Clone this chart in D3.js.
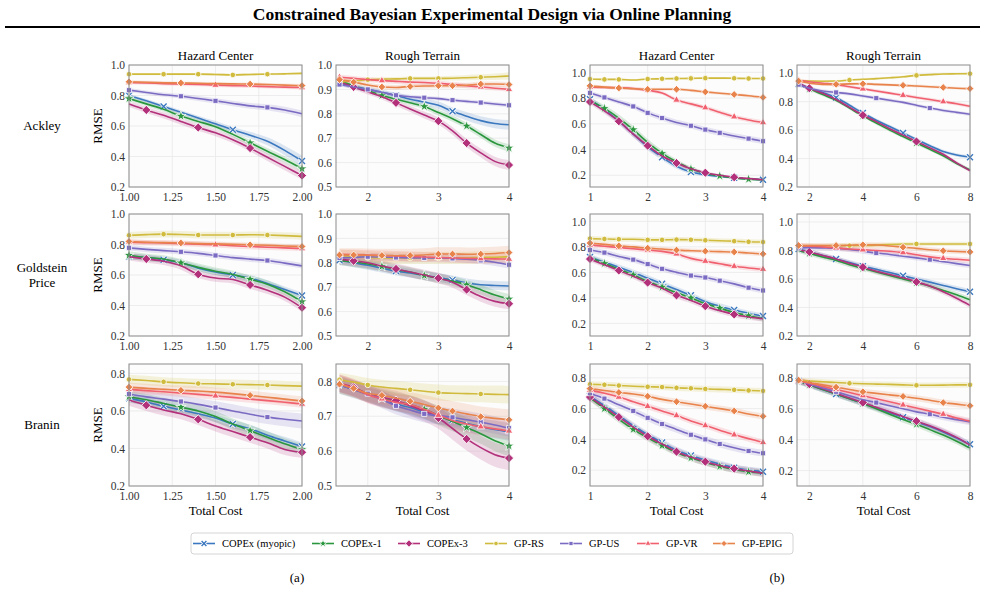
<!DOCTYPE html>
<html>
<head>
<meta charset="utf-8">
<script src="https://cdn.jsdelivr.net/npm/d3@7"></script>
<style>
  body { margin: 0; background: #fff; }
  svg { display: block; font-family: "Liberation Serif", "DejaVu Serif", serif; }
</style>
</head>
<body>
<script>
var WIDTH = 985;
var HEIGHT = 594;

var seriesNames = ['COPEx (myopic)', 'COPEx-1', 'COPEx-3', 'GP-RS', 'GP-US', 'GP-VR', 'GP-EPIG'];
var rowNames = [['Ackley'], ['Goldstein', 'Price'], ['Branin']];
var colTitles = ['Hazard Center', 'Rough Terrain', 'Hazard Center', 'Rough Terrain'];

// x grids (total cost)
var costHazardA = [1.0, 1.1, 1.2, 1.3, 1.4, 1.5, 1.6, 1.7, 1.8, 1.9, 2.0];
var costRoughA = [1.6, 1.8, 2.0, 2.2, 2.4, 2.6, 2.8, 3.0, 3.2, 3.4, 3.6, 3.8, 4.0];
var costHazardB = [1.0, 1.25, 1.5, 1.75, 2.0, 2.25, 2.5, 2.75, 3.0, 3.25, 3.5, 3.75, 4.0];
var costRoughB = [1.6, 2.0, 2.5, 3.0, 3.5, 4.0, 4.5, 5.0, 5.5, 6.0, 6.5, 7.0, 7.5, 8.0];

// tick labels
var xTicksHazardA = [1.0, 1.25, 1.5, 1.75, 2.0];
var xTicksRoughA = [2, 3, 4];
var xTicksHazardB = [1, 2, 3, 4];
var xTicksRoughB = [2, 4, 6, 8];
var yTicksWide = [0.2, 0.4, 0.6, 0.8, 1.0];
var yTicksNarrow = [0.5, 0.6, 0.7, 0.8, 0.9, 1.0];
var yTicksBraninWide = [0.2, 0.4, 0.6, 0.8];
var yTicksBraninNarrow = [0.5, 0.6, 0.7, 0.8];

// RMSE, one row per series in the order of seriesNames
var ackleyHazardA = [
  [0.80, 0.765, 0.728, 0.69, 0.652, 0.615, 0.575, 0.54, 0.50, 0.44, 0.37],
  [0.78, 0.745, 0.71, 0.665, 0.63, 0.595, 0.545, 0.49, 0.435, 0.38, 0.32],
  [0.745, 0.705, 0.67, 0.63, 0.59, 0.555, 0.51, 0.455, 0.395, 0.335, 0.275],
  [0.94, 0.94, 0.94, 0.94, 0.94, 0.938, 0.935, 0.938, 0.94, 0.942, 0.945],
  [0.835, 0.82, 0.805, 0.795, 0.78, 0.765, 0.748, 0.732, 0.722, 0.705, 0.68],
  [0.885, 0.882, 0.878, 0.875, 0.872, 0.868, 0.865, 0.862, 0.858, 0.855, 0.852],
  [0.89, 0.887, 0.884, 0.882, 0.88, 0.878, 0.876, 0.875, 0.872, 0.868, 0.865]
];
var ackleyRoughA = [
  [0.925, 0.912, 0.9, 0.888, 0.875, 0.86, 0.848, 0.835, 0.81, 0.79, 0.772, 0.76, 0.755],
  [0.935, 0.915, 0.895, 0.875, 0.86, 0.845, 0.83, 0.805, 0.78, 0.75, 0.715, 0.68, 0.66],
  [0.93, 0.91, 0.89, 0.87, 0.845, 0.82, 0.795, 0.77, 0.73, 0.68, 0.64, 0.605, 0.59],
  [0.93, 0.935, 0.94, 0.942, 0.943, 0.945, 0.945, 0.945, 0.946, 0.948, 0.95, 0.952, 0.955],
  [0.92, 0.91, 0.9, 0.888, 0.876, 0.87, 0.866, 0.862, 0.856, 0.851, 0.846, 0.84, 0.835],
  [0.95, 0.945, 0.94, 0.936, 0.933, 0.93, 0.928, 0.925, 0.92, 0.915, 0.91, 0.905, 0.9],
  [0.94, 0.93, 0.918, 0.91, 0.908, 0.912, 0.914, 0.915, 0.915, 0.917, 0.922, 0.922, 0.92]
];
var ackleyHazardB = [
  [0.79, 0.71, 0.62, 0.52, 0.42, 0.34, 0.27, 0.225, 0.205, 0.19, 0.18, 0.172, 0.165],
  [0.78, 0.72, 0.645, 0.555, 0.455, 0.37, 0.305, 0.25, 0.215, 0.195, 0.18, 0.17, 0.165],
  [0.77, 0.70, 0.62, 0.52, 0.43, 0.35, 0.295, 0.25, 0.22, 0.20, 0.185, 0.175, 0.165],
  [0.948, 0.945, 0.945, 0.94, 0.948, 0.95, 0.952, 0.953, 0.955, 0.955, 0.954, 0.952, 0.952],
  [0.84, 0.805, 0.77, 0.735, 0.685, 0.645, 0.61, 0.585, 0.555, 0.53, 0.505, 0.485, 0.465],
  [0.885, 0.882, 0.88, 0.875, 0.86, 0.84, 0.785, 0.755, 0.725, 0.69, 0.655, 0.63, 0.61],
  [0.895, 0.885, 0.878, 0.873, 0.868, 0.868, 0.868, 0.86, 0.848, 0.838, 0.828, 0.818, 0.805]
];
var ackleyRoughB = [
  [0.925, 0.895, 0.865, 0.83, 0.775, 0.72, 0.67, 0.625, 0.58, 0.535, 0.49, 0.45, 0.425, 0.41],
  [0.925, 0.89, 0.85, 0.81, 0.755, 0.70, 0.65, 0.60, 0.555, 0.51, 0.465, 0.42, 0.365, 0.32],
  [0.93, 0.895, 0.86, 0.815, 0.76, 0.705, 0.66, 0.61, 0.565, 0.52, 0.475, 0.43, 0.37, 0.315],
  [0.948, 0.945, 0.944, 0.945, 0.952, 0.958, 0.962, 0.968, 0.975, 0.985, 0.99, 0.995, 0.996, 0.997],
  [0.92, 0.895, 0.875, 0.865, 0.855, 0.84, 0.825, 0.81, 0.795, 0.775, 0.755, 0.738, 0.725, 0.712],
  [0.95, 0.94, 0.93, 0.92, 0.905, 0.89, 0.875, 0.86, 0.845, 0.83, 0.815, 0.80, 0.785, 0.768],
  [0.945, 0.93, 0.922, 0.922, 0.925, 0.926, 0.922, 0.918, 0.915, 0.91, 0.905, 0.90, 0.895, 0.892]
];
var goldsteinHazardA = [
  [0.72, 0.715, 0.70, 0.68, 0.645, 0.62, 0.60, 0.58, 0.545, 0.505, 0.465],
  [0.73, 0.715, 0.705, 0.68, 0.65, 0.625, 0.603, 0.572, 0.54, 0.49, 0.425],
  [0.72, 0.705, 0.69, 0.66, 0.605, 0.58, 0.57, 0.535, 0.50, 0.455, 0.385],
  [0.86, 0.865, 0.868, 0.866, 0.862, 0.862, 0.862, 0.864, 0.862, 0.858, 0.853],
  [0.778, 0.768, 0.76, 0.752, 0.742, 0.728, 0.714, 0.704, 0.695, 0.678, 0.66],
  [0.815, 0.812, 0.81, 0.806, 0.802, 0.798, 0.792, 0.787, 0.782, 0.778, 0.773],
  [0.82, 0.815, 0.812, 0.81, 0.806, 0.804, 0.801, 0.798, 0.795, 0.79, 0.787]
];
var goldsteinRoughA = [
  [0.81, 0.80, 0.79, 0.778, 0.766, 0.758, 0.748, 0.74, 0.73, 0.718, 0.71, 0.707, 0.705],
  [0.81, 0.803, 0.795, 0.785, 0.772, 0.762, 0.748, 0.736, 0.725, 0.71, 0.69, 0.668, 0.652],
  [0.815, 0.808, 0.80, 0.787, 0.775, 0.762, 0.75, 0.737, 0.72, 0.69, 0.662, 0.642, 0.632],
  [0.83, 0.826, 0.822, 0.82, 0.82, 0.82, 0.82, 0.82, 0.82, 0.82, 0.822, 0.823, 0.825],
  [0.82, 0.822, 0.825, 0.824, 0.822, 0.82, 0.82, 0.82, 0.818, 0.815, 0.81, 0.802, 0.792],
  [0.835, 0.834, 0.832, 0.83, 0.828, 0.826, 0.824, 0.822, 0.82, 0.818, 0.817, 0.816, 0.815],
  [0.832, 0.832, 0.831, 0.83, 0.83, 0.83, 0.832, 0.836, 0.836, 0.835, 0.836, 0.838, 0.842]
];
var goldsteinHazardB = [
  [0.72, 0.68, 0.64, 0.60, 0.555, 0.51, 0.465, 0.42, 0.37, 0.335, 0.305, 0.28, 0.257],
  [0.715, 0.67, 0.625, 0.58, 0.53, 0.485, 0.44, 0.40, 0.355, 0.32, 0.285, 0.26, 0.238],
  [0.705, 0.66, 0.615, 0.57, 0.52, 0.475, 0.42, 0.38, 0.335, 0.30, 0.27, 0.25, 0.235],
  [0.865, 0.862, 0.86, 0.86, 0.855, 0.855, 0.857, 0.856, 0.852, 0.848, 0.845, 0.84, 0.838],
  [0.775, 0.755, 0.725, 0.70, 0.665, 0.628, 0.60, 0.575, 0.56, 0.535, 0.51, 0.48, 0.458],
  [0.815, 0.805, 0.795, 0.785, 0.775, 0.765, 0.745, 0.71, 0.688, 0.668, 0.648, 0.635, 0.625],
  [0.83, 0.82, 0.808, 0.80, 0.79, 0.783, 0.775, 0.77, 0.766, 0.763, 0.76, 0.752, 0.745]
];
var goldsteinRoughB = [
  [0.81, 0.79, 0.765, 0.74, 0.715, 0.69, 0.668, 0.645, 0.622, 0.60, 0.578, 0.555, 0.532, 0.51],
  [0.80, 0.78, 0.755, 0.73, 0.70, 0.675, 0.65, 0.625, 0.60, 0.575, 0.55, 0.52, 0.49, 0.455],
  [0.805, 0.79, 0.765, 0.74, 0.71, 0.683, 0.655, 0.632, 0.608, 0.58, 0.55, 0.51, 0.465, 0.415],
  [0.83, 0.832, 0.833, 0.834, 0.834, 0.835, 0.838, 0.842, 0.845, 0.846, 0.846, 0.846, 0.846, 0.846],
  [0.82, 0.82, 0.818, 0.815, 0.808, 0.795, 0.782, 0.772, 0.76, 0.748, 0.736, 0.722, 0.708, 0.695],
  [0.835, 0.83, 0.825, 0.818, 0.81, 0.805, 0.80, 0.795, 0.785, 0.77, 0.755, 0.745, 0.738, 0.732],
  [0.835, 0.835, 0.835, 0.835, 0.837, 0.84, 0.838, 0.832, 0.823, 0.815, 0.805, 0.798, 0.793, 0.79]
];
var braninHazardA = [
  [0.667, 0.648, 0.625, 0.605, 0.585, 0.562, 0.53, 0.505, 0.47, 0.44, 0.41],
  [0.676, 0.66, 0.64, 0.62, 0.60, 0.57, 0.53, 0.495, 0.46, 0.425, 0.395],
  [0.658, 0.63, 0.605, 0.585, 0.555, 0.52, 0.49, 0.46, 0.43, 0.395, 0.38],
  [0.768, 0.762, 0.755, 0.75, 0.746, 0.744, 0.742, 0.74, 0.738, 0.735, 0.732],
  [0.69, 0.675, 0.663, 0.65, 0.635, 0.618, 0.60, 0.582, 0.567, 0.556, 0.546],
  [0.715, 0.708, 0.702, 0.695, 0.688, 0.68, 0.672, 0.663, 0.655, 0.646, 0.637],
  [0.727, 0.72, 0.715, 0.71, 0.706, 0.70, 0.692, 0.683, 0.673, 0.663, 0.653]
];
var braninRoughA = [
  [0.79, 0.777, 0.763, 0.75, 0.735, 0.725, 0.712, 0.70, 0.69, 0.68, 0.67, 0.662, 0.655],
  [0.79, 0.778, 0.765, 0.752, 0.742, 0.733, 0.72, 0.702, 0.685, 0.668, 0.65, 0.63, 0.615],
  [0.795, 0.783, 0.765, 0.755, 0.745, 0.73, 0.715, 0.695, 0.665, 0.635, 0.61, 0.59, 0.58],
  [0.805, 0.798, 0.79, 0.784, 0.78, 0.776, 0.772, 0.768, 0.766, 0.765, 0.764, 0.763, 0.762],
  [0.79, 0.777, 0.765, 0.748, 0.73, 0.718, 0.707, 0.702, 0.697, 0.69, 0.683, 0.675, 0.666],
  [0.795, 0.78, 0.762, 0.75, 0.74, 0.734, 0.72, 0.703, 0.688, 0.678, 0.67, 0.664, 0.658],
  [0.792, 0.78, 0.766, 0.76, 0.752, 0.743, 0.734, 0.724, 0.715, 0.707, 0.699, 0.694, 0.69]
];
var braninHazardB = [
  [0.68, 0.62, 0.555, 0.49, 0.43, 0.38, 0.33, 0.295, 0.265, 0.24, 0.215, 0.20, 0.19],
  [0.67, 0.60, 0.53, 0.465, 0.41, 0.36, 0.315, 0.28, 0.25, 0.225, 0.205, 0.19, 0.18],
  [0.675, 0.61, 0.545, 0.48, 0.42, 0.37, 0.32, 0.285, 0.255, 0.23, 0.21, 0.195, 0.18],
  [0.758, 0.755, 0.75, 0.745, 0.742, 0.74, 0.735, 0.732, 0.728, 0.725, 0.722, 0.718, 0.715],
  [0.70, 0.665, 0.625, 0.585, 0.54, 0.50, 0.465, 0.43, 0.40, 0.37, 0.345, 0.325, 0.31],
  [0.72, 0.70, 0.675, 0.645, 0.615, 0.585, 0.555, 0.52, 0.49, 0.46, 0.43, 0.405, 0.38],
  [0.73, 0.718, 0.705, 0.695, 0.68, 0.66, 0.645, 0.63, 0.615, 0.60, 0.585, 0.565, 0.55]
];
var braninRoughB = [
  [0.78, 0.755, 0.725, 0.695, 0.665, 0.635, 0.605, 0.575, 0.545, 0.515, 0.485, 0.45, 0.41, 0.37],
  [0.775, 0.755, 0.725, 0.695, 0.665, 0.635, 0.60, 0.565, 0.53, 0.50, 0.465, 0.43, 0.39, 0.345],
  [0.785, 0.76, 0.73, 0.70, 0.67, 0.64, 0.61, 0.58, 0.55, 0.52, 0.49, 0.455, 0.415, 0.365],
  [0.785, 0.78, 0.775, 0.77, 0.765, 0.762, 0.76, 0.758, 0.755, 0.752, 0.752, 0.753, 0.755, 0.755],
  [0.78, 0.76, 0.735, 0.71, 0.685, 0.66, 0.64, 0.62, 0.60, 0.58, 0.565, 0.545, 0.53, 0.515],
  [0.78, 0.765, 0.745, 0.725, 0.705, 0.685, 0.665, 0.645, 0.625, 0.605, 0.585, 0.565, 0.54, 0.52],
  [0.785, 0.77, 0.755, 0.74, 0.725, 0.71, 0.70, 0.69, 0.68, 0.668, 0.655, 0.64, 0.63, 0.62]
];

// half width of the shaded band, same layout as the values
var ackleyHazardAErr = [
  [0.012, 0.012, 0.013, 0.014, 0.015, 0.017, 0.019, 0.022, 0.026, 0.031, 0.036],
  [0.015, 0.015, 0.016, 0.016, 0.017, 0.017, 0.018, 0.019, 0.02, 0.021, 0.022],
  [0.02, 0.02, 0.02, 0.021, 0.021, 0.022, 0.022, 0.023, 0.024, 0.025, 0.026],
  [0.008, 0.008, 0.008, 0.008, 0.008, 0.008, 0.008, 0.008, 0.008, 0.008, 0.008],
  [0.012, 0.013, 0.014, 0.015, 0.016, 0.017, 0.018, 0.019, 0.02, 0.021, 0.022],
  [0.012, 0.012, 0.012, 0.012, 0.012, 0.012, 0.012, 0.012, 0.012, 0.012, 0.012],
  [0.01, 0.01, 0.01, 0.01, 0.01, 0.01, 0.01, 0.01, 0.01, 0.01, 0.01]
];
var ackleyRoughAErr = [
  [0.01, 0.01, 0.01, 0.011, 0.012, 0.013, 0.014, 0.015, 0.016, 0.017, 0.018, 0.019, 0.02],
  [0.008, 0.008, 0.009, 0.009, 0.01, 0.01, 0.011, 0.012, 0.013, 0.013, 0.014, 0.015, 0.015],
  [0.01, 0.01, 0.011, 0.011, 0.012, 0.013, 0.014, 0.015, 0.016, 0.017, 0.018, 0.019, 0.02],
  [0.01, 0.01, 0.008, 0.008, 0.008, 0.008, 0.008, 0.009, 0.01, 0.011, 0.012, 0.013, 0.015],
  [0.008, 0.008, 0.008, 0.008, 0.008, 0.008, 0.008, 0.008, 0.008, 0.008, 0.008, 0.008, 0.008],
  [0.01, 0.01, 0.01, 0.01, 0.01, 0.01, 0.01, 0.01, 0.01, 0.01, 0.01, 0.01, 0.01],
  [0.01, 0.01, 0.01, 0.01, 0.01, 0.01, 0.01, 0.01, 0.01, 0.01, 0.01, 0.01, 0.01]
];
var ackleyHazardBErr = [
  [0.02, 0.022, 0.024, 0.025, 0.025, 0.024, 0.02, 0.016, 0.012, 0.01, 0.008, 0.007, 0.006],
  [0.022, 0.025, 0.028, 0.028, 0.027, 0.025, 0.02, 0.016, 0.012, 0.01, 0.008, 0.007, 0.006],
  [0.02, 0.022, 0.024, 0.025, 0.025, 0.023, 0.02, 0.016, 0.012, 0.01, 0.008, 0.007, 0.006],
  [0.008, 0.008, 0.008, 0.008, 0.008, 0.008, 0.008, 0.008, 0.008, 0.008, 0.008, 0.008, 0.008],
  [0.015, 0.017, 0.018, 0.02, 0.02, 0.021, 0.021, 0.022, 0.022, 0.022, 0.022, 0.022, 0.022],
  [0.012, 0.012, 0.013, 0.013, 0.014, 0.015, 0.016, 0.016, 0.017, 0.017, 0.018, 0.018, 0.018],
  [0.012, 0.012, 0.012, 0.012, 0.012, 0.012, 0.012, 0.012, 0.012, 0.012, 0.012, 0.012, 0.012]
];
var ackleyRoughBErr = [
  [0.012, 0.012, 0.012, 0.012, 0.012, 0.012, 0.012, 0.012, 0.012, 0.012, 0.012, 0.012, 0.012, 0.012],
  [0.012, 0.012, 0.012, 0.012, 0.012, 0.012, 0.012, 0.012, 0.012, 0.012, 0.012, 0.012, 0.012, 0.012],
  [0.012, 0.012, 0.012, 0.012, 0.012, 0.012, 0.012, 0.012, 0.012, 0.012, 0.012, 0.012, 0.012, 0.012],
  [0.008, 0.008, 0.008, 0.008, 0.008, 0.008, 0.008, 0.008, 0.008, 0.008, 0.008, 0.008, 0.008, 0.008],
  [0.012, 0.012, 0.012, 0.012, 0.012, 0.012, 0.012, 0.012, 0.012, 0.012, 0.012, 0.012, 0.012, 0.012],
  [0.012, 0.012, 0.012, 0.012, 0.012, 0.012, 0.012, 0.012, 0.012, 0.012, 0.012, 0.012, 0.012, 0.012],
  [0.01, 0.01, 0.01, 0.01, 0.01, 0.01, 0.01, 0.01, 0.01, 0.01, 0.01, 0.01, 0.01, 0.01]
];
var goldsteinHazardAErr = [
  [0.02, 0.02, 0.02, 0.02, 0.02, 0.02, 0.02, 0.02, 0.02, 0.02, 0.02],
  [0.025, 0.025, 0.025, 0.025, 0.025, 0.025, 0.025, 0.025, 0.025, 0.025, 0.025],
  [0.025, 0.025, 0.025, 0.025, 0.025, 0.025, 0.025, 0.025, 0.025, 0.025, 0.025],
  [0.022, 0.022, 0.022, 0.022, 0.022, 0.022, 0.022, 0.022, 0.022, 0.022, 0.022],
  [0.018, 0.018, 0.018, 0.018, 0.018, 0.018, 0.018, 0.018, 0.018, 0.018, 0.018],
  [0.018, 0.018, 0.018, 0.018, 0.018, 0.018, 0.018, 0.018, 0.018, 0.018, 0.018],
  [0.015, 0.015, 0.015, 0.015, 0.015, 0.015, 0.015, 0.015, 0.015, 0.015, 0.015]
];
var goldsteinRoughAErr = [
  [0.018, 0.018, 0.018, 0.018, 0.018, 0.018, 0.018, 0.018, 0.018, 0.018, 0.018, 0.018, 0.018],
  [0.02, 0.02, 0.02, 0.02, 0.02, 0.02, 0.02, 0.02, 0.02, 0.02, 0.02, 0.02, 0.02],
  [0.022, 0.022, 0.022, 0.022, 0.022, 0.022, 0.022, 0.022, 0.022, 0.022, 0.022, 0.022, 0.022],
  [0.025, 0.025, 0.025, 0.025, 0.025, 0.025, 0.025, 0.025, 0.025, 0.025, 0.025, 0.025, 0.025],
  [0.015, 0.015, 0.015, 0.015, 0.015, 0.015, 0.015, 0.015, 0.015, 0.015, 0.015, 0.015, 0.015],
  [0.02, 0.02, 0.02, 0.02, 0.02, 0.02, 0.02, 0.02, 0.02, 0.02, 0.02, 0.02, 0.02],
  [0.028, 0.028, 0.028, 0.028, 0.028, 0.028, 0.028, 0.028, 0.028, 0.028, 0.028, 0.028, 0.028]
];
var goldsteinHazardBErr = [
  [0.022, 0.022, 0.022, 0.022, 0.022, 0.022, 0.022, 0.022, 0.022, 0.022, 0.022, 0.022, 0.022],
  [0.022, 0.022, 0.022, 0.022, 0.022, 0.022, 0.022, 0.022, 0.022, 0.022, 0.022, 0.022, 0.022],
  [0.022, 0.022, 0.022, 0.022, 0.022, 0.022, 0.022, 0.022, 0.022, 0.022, 0.022, 0.022, 0.022],
  [0.02, 0.02, 0.02, 0.02, 0.02, 0.02, 0.02, 0.02, 0.02, 0.02, 0.02, 0.02, 0.02],
  [0.022, 0.022, 0.022, 0.022, 0.022, 0.022, 0.022, 0.022, 0.022, 0.022, 0.022, 0.022, 0.022],
  [0.02, 0.02, 0.02, 0.02, 0.02, 0.02, 0.02, 0.02, 0.02, 0.02, 0.02, 0.02, 0.02],
  [0.018, 0.018, 0.018, 0.018, 0.018, 0.018, 0.018, 0.018, 0.018, 0.018, 0.018, 0.018, 0.018]
];
var goldsteinRoughBErr = [
  [0.018, 0.018, 0.018, 0.018, 0.018, 0.018, 0.018, 0.018, 0.018, 0.018, 0.018, 0.018, 0.018, 0.018],
  [0.018, 0.018, 0.018, 0.018, 0.018, 0.018, 0.018, 0.018, 0.018, 0.018, 0.018, 0.018, 0.018, 0.018],
  [0.018, 0.018, 0.018, 0.018, 0.018, 0.018, 0.018, 0.018, 0.018, 0.018, 0.018, 0.018, 0.018, 0.018],
  [0.015, 0.015, 0.015, 0.015, 0.015, 0.015, 0.015, 0.015, 0.015, 0.015, 0.015, 0.015, 0.015, 0.015],
  [0.018, 0.018, 0.018, 0.018, 0.018, 0.018, 0.018, 0.018, 0.018, 0.018, 0.018, 0.018, 0.018, 0.018],
  [0.018, 0.018, 0.018, 0.018, 0.018, 0.018, 0.018, 0.018, 0.018, 0.018, 0.018, 0.018, 0.018, 0.018],
  [0.018, 0.018, 0.018, 0.018, 0.018, 0.018, 0.018, 0.018, 0.018, 0.018, 0.018, 0.018, 0.018, 0.018]
];
var braninHazardAErr = [
  [0.022, 0.022, 0.022, 0.022, 0.022, 0.022, 0.022, 0.022, 0.022, 0.022, 0.022],
  [0.03, 0.03, 0.03, 0.03, 0.03, 0.03, 0.03, 0.03, 0.03, 0.03, 0.03],
  [0.03, 0.03, 0.03, 0.03, 0.03, 0.03, 0.03, 0.03, 0.03, 0.03, 0.03],
  [0.025, 0.025, 0.025, 0.025, 0.025, 0.025, 0.025, 0.025, 0.025, 0.025, 0.025],
  [0.03, 0.03, 0.031, 0.032, 0.033, 0.034, 0.035, 0.036, 0.037, 0.038, 0.04],
  [0.02, 0.02, 0.02, 0.02, 0.02, 0.02, 0.02, 0.02, 0.02, 0.02, 0.02],
  [0.025, 0.025, 0.025, 0.025, 0.025, 0.025, 0.025, 0.025, 0.025, 0.025, 0.025]
];
var braninRoughAErr = [
  [0.02, 0.02, 0.02, 0.021, 0.021, 0.022, 0.022, 0.023, 0.023, 0.024, 0.024, 0.025, 0.025],
  [0.025, 0.025, 0.025, 0.026, 0.026, 0.027, 0.027, 0.028, 0.028, 0.029, 0.029, 0.03, 0.03],
  [0.025, 0.025, 0.026, 0.027, 0.028, 0.029, 0.03, 0.031, 0.032, 0.033, 0.034, 0.035, 0.035],
  [0.02, 0.02, 0.02, 0.021, 0.021, 0.022, 0.022, 0.023, 0.023, 0.024, 0.024, 0.025, 0.025],
  [0.025, 0.025, 0.025, 0.025, 0.025, 0.025, 0.025, 0.025, 0.025, 0.025, 0.025, 0.025, 0.025],
  [0.025, 0.025, 0.025, 0.025, 0.025, 0.025, 0.025, 0.025, 0.025, 0.025, 0.025, 0.025, 0.025],
  [0.025, 0.025, 0.025, 0.026, 0.026, 0.027, 0.027, 0.028, 0.028, 0.029, 0.029, 0.03, 0.03]
];
var braninHazardBErr = [
  [0.022, 0.022, 0.022, 0.022, 0.022, 0.022, 0.022, 0.022, 0.022, 0.022, 0.022, 0.022, 0.022],
  [0.022, 0.022, 0.022, 0.022, 0.022, 0.022, 0.022, 0.022, 0.022, 0.022, 0.022, 0.022, 0.022],
  [0.025, 0.025, 0.025, 0.025, 0.025, 0.025, 0.025, 0.025, 0.025, 0.025, 0.025, 0.025, 0.025],
  [0.02, 0.02, 0.02, 0.02, 0.02, 0.02, 0.02, 0.02, 0.02, 0.02, 0.02, 0.02, 0.02],
  [0.022, 0.022, 0.022, 0.022, 0.022, 0.022, 0.022, 0.022, 0.022, 0.022, 0.022, 0.022, 0.022],
  [0.02, 0.02, 0.02, 0.02, 0.02, 0.02, 0.02, 0.02, 0.02, 0.02, 0.02, 0.02, 0.02],
  [0.02, 0.02, 0.02, 0.02, 0.02, 0.02, 0.02, 0.02, 0.02, 0.02, 0.02, 0.02, 0.02]
];
var braninRoughBErr = [
  [0.02, 0.02, 0.02, 0.02, 0.02, 0.02, 0.02, 0.02, 0.02, 0.02, 0.02, 0.02, 0.02, 0.02],
  [0.02, 0.02, 0.02, 0.02, 0.02, 0.02, 0.02, 0.02, 0.02, 0.02, 0.02, 0.02, 0.02, 0.02],
  [0.02, 0.02, 0.02, 0.02, 0.02, 0.02, 0.02, 0.02, 0.02, 0.02, 0.02, 0.02, 0.02, 0.02],
  [0.018, 0.018, 0.018, 0.018, 0.018, 0.018, 0.018, 0.018, 0.018, 0.018, 0.018, 0.018, 0.018, 0.018],
  [0.02, 0.02, 0.02, 0.02, 0.02, 0.02, 0.02, 0.02, 0.02, 0.02, 0.02, 0.02, 0.02, 0.02],
  [0.02, 0.02, 0.02, 0.02, 0.02, 0.02, 0.02, 0.02, 0.02, 0.02, 0.02, 0.02, 0.02, 0.02],
  [0.02, 0.02, 0.02, 0.02, 0.02, 0.02, 0.02, 0.02, 0.02, 0.02, 0.02, 0.02, 0.02, 0.02]
];

// styling
var colors = ['#3b78bf', '#2a973e', '#b3307b', '#d0bb3d', '#7b6bc3', '#f0606e', '#e8834c'];
var markerKinds = ['x', 'star', 'bigdiamond', 'circle', 'square', 'triangle', 'diamond'];

var COL_LEFT = [129, 336, 590, 797];
var COL_WIDTH = 173;
var ROW_TOP = [65, 214, 364];
var ROW_HEIGHT = 122;

var columns = [
  { xs: costHazardA, domain: [1, 2], ticks: xTicksHazardA, fmt: d3.format('.2f'),
    marks: [[0, 2, 6, 10], [0, 3, 7, 10], [1, 4, 7, 10], [0, 2, 4, 6, 8], [0, 3, 5, 8], [0, 5, 10], [0, 3, 7, 10]] },
  { xs: costRoughA, domain: [1.55, 4], ticks: xTicksRoughA, fmt: d3.format('d'),
    marks: [[0, 4, 8], [3, 6, 9, 12], [1, 4, 7, 9, 12], [0, 2, 5, 7, 10], [0, 2, 4, 6, 8, 10, 12], [0, 3, 7, 10, 12], [0, 1, 3, 5, 7, 8, 10, 12]] },
  { xs: costHazardB, domain: [1, 4], ticks: xTicksHazardB, fmt: d3.format('d'),
    marks: [[0, 5, 7, 10, 12], [1, 3, 5, 7, 9, 11], [0, 2, 4, 6, 8, 10], [0, 1, 2, 4, 5, 6, 7, 8, 10, 11, 12], [0, 1, 3, 4, 5, 7, 8, 9, 11, 12], [0, 2, 4, 6, 8, 10, 12], [0, 2, 4, 6, 8, 10, 12]] },
  { xs: costRoughB, domain: [1.54, 8], ticks: xTicksRoughB, fmt: d3.format('d'),
    marks: [[0, 3, 5, 8, 13], [1, 5, 9], [1, 5, 9], [0, 4, 9, 13], [0, 3, 6, 10], [0, 3, 5, 8, 11], [0, 3, 5, 8, 11, 13]] }
];

var panels = [
  { row: 0, col: 0, vals: ackleyHazardA, err: ackleyHazardAErr, yDomain: [0.2, 1.0], yTicks: yTicksWide },
  { row: 0, col: 1, vals: ackleyRoughA, err: ackleyRoughAErr, yDomain: [0.5, 1.0], yTicks: yTicksNarrow },
  { row: 0, col: 2, vals: ackleyHazardB, err: ackleyHazardBErr, yDomain: [0.109, 1.057], yTicks: yTicksWide },
  { row: 0, col: 3, vals: ackleyRoughB, err: ackleyRoughBErr, yDomain: [0.2, 1.058], yTicks: yTicksWide },
  { row: 1, col: 0, vals: goldsteinHazardA, err: goldsteinHazardAErr, yDomain: [0.2, 1.0], yTicks: yTicksWide },
  { row: 1, col: 1, vals: goldsteinRoughA, err: goldsteinRoughAErr, yDomain: [0.5, 1.0], yTicks: yTicksNarrow },
  { row: 1, col: 2, vals: goldsteinHazardB, err: goldsteinHazardBErr, yDomain: [0.101, 1.058], yTicks: yTicksWide },
  { row: 1, col: 3, vals: goldsteinRoughB, err: goldsteinRoughBErr, yDomain: [0.2, 1.056], yTicks: yTicksWide },
  { row: 2, col: 0, vals: braninHazardA, err: braninHazardAErr, yDomain: [0.2, 0.85], yTicks: yTicksBraninWide },
  { row: 2, col: 1, vals: braninRoughA, err: braninRoughAErr, yDomain: [0.5, 0.85], yTicks: yTicksBraninNarrow },
  { row: 2, col: 2, vals: braninHazardB, err: braninHazardBErr, yDomain: [0.097, 0.89], yTicks: yTicksBraninWide },
  { row: 2, col: 3, vals: braninRoughB, err: braninRoughBErr, yDomain: [0.1, 0.89], yTicks: yTicksBraninWide }
];

var svg = d3.select('body')
  .append('svg')
  .attr('width', WIDTH)
  .attr('height', HEIGHT);

svg.append('rect').attr('width', WIDTH).attr('height', HEIGHT).attr('fill', '#fff');

svg.append('text')
  .attr('x', 492).attr('y', 20)
  .attr('text-anchor', 'middle')
  .attr('font-size', 17.5).attr('font-weight', 'bold')
  .text('Constrained Bayesian Experimental Design via Online Planning');
svg.append('line')
  .attr('x1', 5).attr('x2', 980).attr('y1', 27).attr('y2', 27)
  .attr('stroke', '#000').attr('stroke-width', 2);

// draws one marker of the given kind into selection g
var drawMarker = function(g, kind, color, scale) {
  var s = scale || 1;
  if (kind === 'x') {
    var r = 3 * s;
    var d = 'M' + (-r) + ',' + (-r) + 'L' + r + ',' + r + 'M' + (-r) + ',' + r + 'L' + r + ',' + (-r);
    g.append('path').attr('d', d).attr('stroke', '#fff').attr('stroke-width', 3).attr('fill', 'none');
    g.append('path').attr('d', d).attr('stroke', color).attr('stroke-width', 1.4).attr('fill', 'none');
    return;
  }
  var sym, size, rot = 0;
  if (kind === 'star') { sym = d3.symbolStar; size = 34; }
  else if (kind === 'bigdiamond') { sym = d3.symbolSquare; size = 42; rot = 45; }
  else if (kind === 'diamond') { sym = d3.symbolSquare; size = 30; rot = 45; }
  else if (kind === 'circle') { sym = d3.symbolCircle; size = 24; }
  else if (kind === 'square') { sym = d3.symbolSquare; size = 26; }
  else { sym = d3.symbolTriangle; size = 24; }
  g.append('path')
    .attr('d', d3.symbol().type(sym).size(size * s * s)())
    .attr('transform', 'rotate(' + rot + ')')
    .attr('fill', color)
    .attr('stroke', '#fff')
    .attr('stroke-width', 0.8);
};

var drawPanel = function(p) {
  var c = columns[p.col];
  var x = d3.scaleLinear().domain(c.domain).range([0, COL_WIDTH]);
  var y = d3.scaleLinear().domain(p.yDomain).range([ROW_HEIGHT, 0]);
  var g = svg.append('g')
    .attr('transform', 'translate(' + COL_LEFT[p.col] + ',' + ROW_TOP[p.row] + ')');

  g.append('rect')
    .attr('width', COL_WIDTH).attr('height', ROW_HEIGHT)
    .attr('fill', '#fcfcfc');

  g.selectAll('.vgrid').data(c.ticks).enter().append('line')
    .attr('x1', function(d) { return x(d); }).attr('x2', function(d) { return x(d); })
    .attr('y1', 0).attr('y2', ROW_HEIGHT)
    .attr('stroke', '#e9e9e9').attr('stroke-width', 0.8);
  g.selectAll('.hgrid').data(p.yTicks).enter().append('line')
    .attr('x1', 0).attr('x2', COL_WIDTH)
    .attr('y1', function(d) { return y(d); }).attr('y2', function(d) { return y(d); })
    .attr('stroke', '#e9e9e9').attr('stroke-width', 0.8);

  var yAxis = g.append('g')
    .call(d3.axisLeft(y).tickValues(p.yTicks).tickSize(0).tickPadding(4).tickFormat(d3.format('.1f')));
  var xAxis = g.append('g')
    .attr('transform', 'translate(0,' + ROW_HEIGHT + ')')
    .call(d3.axisBottom(x).tickValues(c.ticks).tickSize(0).tickPadding(6).tickFormat(c.fmt));
  [yAxis, xAxis].forEach(function(a) {
    a.select('.domain').remove();
    a.selectAll('text')
      .attr('font-family', '"Liberation Serif", serif')
      .attr('font-size', 11.5)
      .attr('fill', '#333');
  });

  var xs = c.xs;
  p.vals.forEach(function(vals, s) {
    var err = p.err[s];
    var area = d3.area()
      .x(function(d, i) { return x(xs[i]); })
      .y0(function(d, i) { return y(d - err[i]); })
      .y1(function(d, i) { return y(d + err[i]); })
      .curve(d3.curveMonotoneX);
    g.append('path').datum(vals)
      .attr('d', area)
      .attr('fill', colors[s])
      .attr('fill-opacity', 0.17);
  });
  p.vals.forEach(function(vals, s) {
    var line = d3.line()
      .x(function(d, i) { return x(xs[i]); })
      .y(function(d) { return y(d); })
      .curve(d3.curveMonotoneX);
    g.append('path').datum(vals)
      .attr('d', line)
      .attr('fill', 'none')
      .attr('stroke', colors[s])
      .attr('stroke-width', 1.6);
    c.marks[s].forEach(function(i) {
      var m = g.append('g')
        .attr('transform', 'translate(' + x(xs[i]) + ',' + y(vals[i]) + ')');
      drawMarker(m, markerKinds[s], colors[s]);
    });
  });

  g.append('rect')
    .attr('width', COL_WIDTH).attr('height', ROW_HEIGHT)
    .attr('fill', 'none')
    .attr('stroke', '#8c8c8c').attr('stroke-width', 1);

  if (p.row === 0) {
    g.append('text')
      .attr('x', COL_WIDTH / 2).attr('y', -5)
      .attr('text-anchor', 'middle')
      .attr('font-size', 13)
      .text(colTitles[p.col]);
  }
  if (p.row === 2) {
    g.append('text')
      .attr('x', COL_WIDTH / 2).attr('y', ROW_HEIGHT + 29)
      .attr('text-anchor', 'middle')
      .attr('font-size', 13)
      .text('Total Cost');
  }
  if (p.col === 0) {
    g.append('text')
      .attr('transform', 'translate(-27,' + (ROW_HEIGHT / 2) + ') rotate(-90)')
      .attr('text-anchor', 'middle')
      .attr('font-size', 13)
      .text('RMSE');
  }
};

panels.forEach(drawPanel);

// row labels
rowNames.forEach(function(lines, r) {
  var cy = ROW_TOP[r] + ROW_HEIGHT / 2;
  var t = svg.append('text')
    .attr('x', 42)
    .attr('text-anchor', 'middle')
    .attr('font-size', 13);
  lines.forEach(function(l, k) {
    t.append('tspan')
      .attr('x', 42)
      .attr('y', cy + 4 + (k - (lines.length - 1) / 2) * 15)
      .text(l);
  });
});

// legend
var legendX = [193, 312, 398, 485, 560, 637, 713];
var legend = svg.append('g');
legend.append('rect')
  .attr('x', 191).attr('y', 533).attr('width', 602).attr('height', 21)
  .attr('rx', 3)
  .attr('fill', '#fff').attr('stroke', '#d4d4d4').attr('stroke-width', 1);
seriesNames.forEach(function(name, s) {
  var lx = legendX[s];
  legend.append('line')
    .attr('x1', lx).attr('x2', lx + 22).attr('y1', 543.5).attr('y2', 543.5)
    .attr('stroke', colors[s]).attr('stroke-width', 1.6);
  var m = legend.append('g').attr('transform', 'translate(' + (lx + 11) + ',543.5)');
  drawMarker(m, markerKinds[s], colors[s], 0.8);
  legend.append('text')
    .attr('x', lx + 29).attr('y', 547)
    .attr('font-size', 10.5)
    .text(name);
});

svg.append('text').attr('x', 297).attr('y', 582).attr('text-anchor', 'middle').attr('font-size', 13).text('(a)');
svg.append('text').attr('x', 777).attr('y', 582).attr('text-anchor', 'middle').attr('font-size', 13).text('(b)');
</script>
</body>
</html>
